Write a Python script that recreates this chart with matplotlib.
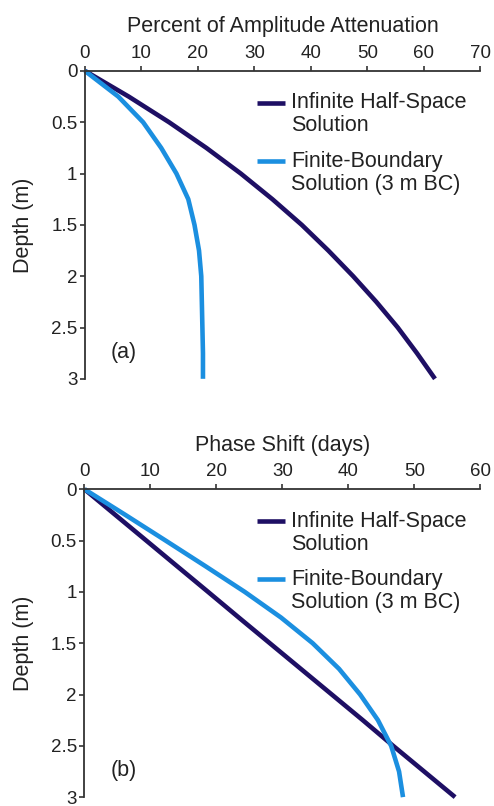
import numpy as np
import matplotlib
matplotlib.use('Agg')
import matplotlib.pyplot as plt

plt.rcParams['font.family'] = ['Liberation Sans', 'DejaVu Sans']

# depth (m)
depth = [0, 0.25, 0.5, 0.75, 1.0, 1.25, 1.5, 1.75, 2.0, 2.25, 2.5, 2.75, 3.0]

# (a) percent of amplitude attenuation
atten_inf = [0, 7.75, 14.9, 21.5, 27.6, 33.2, 38.4, 43.1, 47.5, 51.6, 55.4, 58.8, 62.0]
atten_fin = [0, 5.9, 10.3, 13.5, 16.2, 18.3, 19.4, 20.2, 20.6, 20.7, 20.8, 20.9, 20.9]

# (b) phase shift (days)
phase_inf = [0, 4.68, 9.37, 14.05, 18.74, 23.4, 28.1, 32.8, 37.5, 42.2, 46.8, 51.5, 56.2]
phase_fin = [0, 6.2, 12.3, 18.35, 24.3, 29.8, 34.6, 38.6, 41.8, 44.5, 46.5, 47.7, 48.3]

labels = ['Infinite Half-Space\nSolution', 'Finite-Boundary\nSolution (3 m BC)']
c_inf = '#1e0f64'
c_fin = '#1b8fe0'
axcol = '#333333'
txtcol = '#222222'

fig = plt.figure(figsize=(4.94, 8.06), dpi=100)
ax1 = fig.add_axes([0.172, 0.530, 0.800, 0.382])
ax2 = fig.add_axes([0.171, 0.011, 0.801, 0.382])

panels = [
    (ax1, atten_inf, atten_fin, 'Percent of Amplitude Attenuation', 70, '(a)'),
    (ax2, phase_inf, phase_fin, 'Phase Shift (days)', 60, '(b)'),
]

for ax, v_inf, v_fin, title, xmax, tag in panels:
    ax.plot(v_inf, depth, color=c_inf, lw=3.3, solid_capstyle='butt',
            solid_joinstyle='round', clip_on=False)
    ax.plot(v_fin, depth, color=c_fin, lw=3.3, solid_capstyle='butt',
            solid_joinstyle='round', clip_on=False)

    ax.set_xlim(0, xmax)
    ax.set_ylim(3, 0)
    ax.set_xticks(np.arange(0, xmax + 1, 10))
    ax.set_yticks([0, 0.5, 1, 1.5, 2, 2.5, 3])
    ax.set_yticklabels(['0', '0.5', '1', '1.5', '2', '2.5', '3'])
    ax.xaxis.tick_top()
    ax.xaxis.set_label_position('top')
    ax.set_xlabel(title, fontsize=15.5, labelpad=9, color=txtcol)
    ax.set_ylabel('Depth (m)', fontsize=15.5, labelpad=12, color=txtcol)

    for s in ['right', 'bottom']:
        ax.spines[s].set_visible(False)
    for s in ['top', 'left']:
        ax.spines[s].set_color(axcol)
        ax.spines[s].set_linewidth(1.3)
    ax.tick_params(axis='both', direction='out', length=3.5, width=1.2,
                   color=axcol, labelsize=13.5, labelcolor=txtcol, pad=2)
    ax.tick_params(axis='x', pad=3)

    # legend drawn by hand so the handle sits on the first text line
    for i, (lab, col) in enumerate(zip(labels, [c_inf, c_fin])):
        y0 = 0.897 - i * 0.19
        ax.plot([0.435, 0.506], [y0, y0], transform=ax.transAxes,
                color=col, lw=3.3, solid_capstyle='butt', clip_on=False)
        ax.text(0.522, y0 + 0.033, lab, transform=ax.transAxes, fontsize=15.5,
                va='top', ha='left', linespacing=1.12, color=txtcol)

    ax.text(0.065, 0.085, tag, transform=ax.transAxes, fontsize=15.5,
            ha='left', va='center', color=txtcol)

fig.savefig('out.png', dpi=100)
